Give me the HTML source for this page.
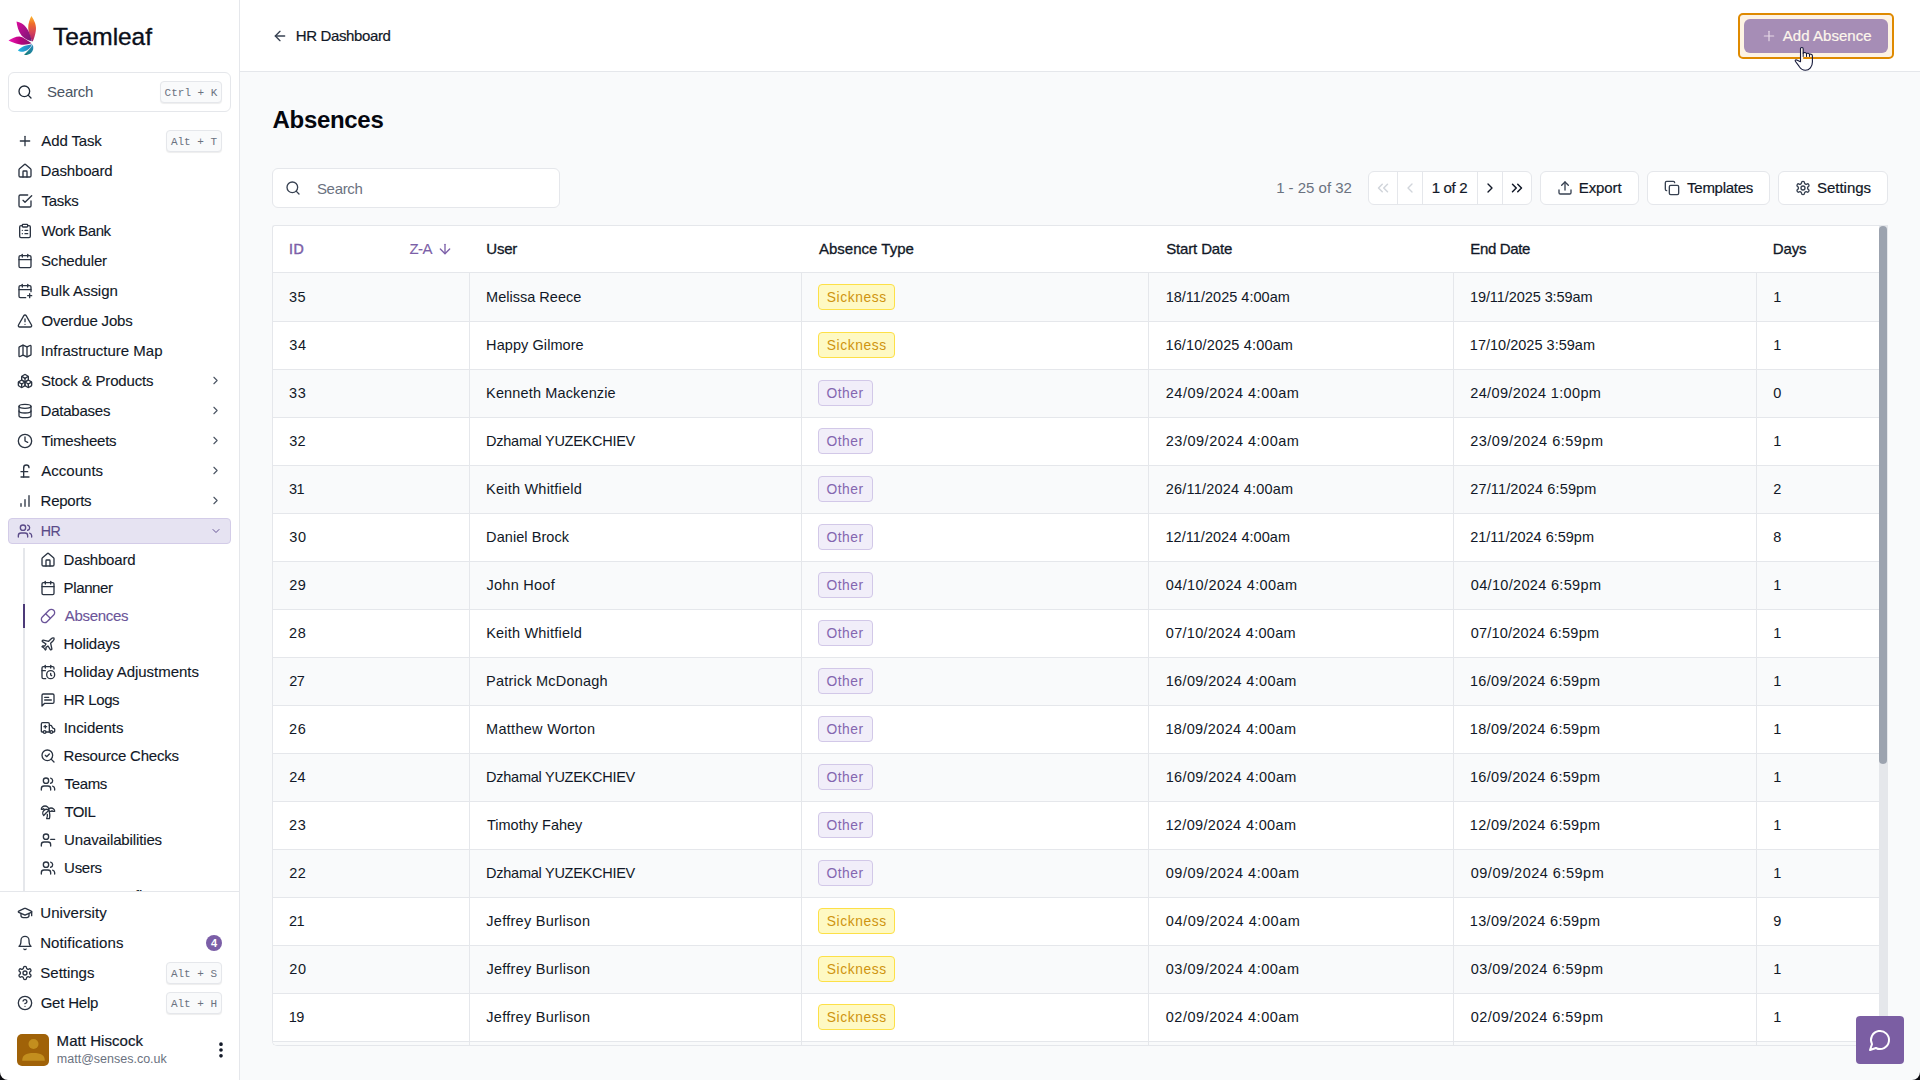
<!DOCTYPE html><html><head><meta charset="utf-8"><title>Absences</title><style>
*{box-sizing:border-box;margin:0;padding:0}
html,body{width:1920px;height:1080px;overflow:hidden;background:#f9fafb;font-family:"Liberation Sans",sans-serif}
body{font-family:"Liberation Sans",sans-serif;color:#111827;font-size:15px;position:relative}
.abs{position:absolute}
.ic{display:block;flex:none}
#sb{position:absolute;left:0;top:0;width:240px;height:1080px;background:#fff;border-right:1px solid #e5e7eb}
.brand{position:absolute;left:52px;top:21px;font-size:24.500px;line-height:32px;color:#0b0f1a;-webkit-text-stroke:0.35px #0b0f1a;white-space:nowrap}
.sbox{position:absolute;left:8px;top:72px;width:223px;height:40px;border:1px solid #e5e7eb;border-radius:6px;background:#fff}
.kbd{position:absolute;height:22px;border:1px solid #e5e7eb;border-radius:4px;background:#f9fafb;font-family:"Liberation Mono",monospace;font-size:11px;line-height:22px;color:#6b7280;text-align:center;white-space:nowrap;box-shadow:0 1px 1px rgba(0,0,0,0.07)}
.ni{position:absolute;left:8px;width:223px;height:26px;border-radius:4px;color:#111827;white-space:nowrap}
.ni .ic{position:absolute;left:9px;top:5px;color:#2b3442}
.ni .t{position:absolute;left:33px;top:0;line-height:26px;font-size:15px;-webkit-text-stroke:0.12px currentColor}
.ni .ch{position:absolute;left:201px;top:6px;color:#4b5563}
.ni.act{background:#e6e3f2;border:1px solid #d3cce8;color:#5a4a88}
.ni.act .ic{color:#5a4a88;left:8px;top:4px}
.ni.act .t{left:32px;top:-1px;font-size:14.200px}
.ni.act .ch{left:201px;top:6px;color:#665596}
.si{position:absolute;left:32px;width:199px;height:26px;white-space:nowrap;color:#111827}
.si .ic{position:absolute;left:8px;top:5px;color:#2b3442}
.si .t{position:absolute;left:32px;top:0;line-height:26px;font-size:15px;-webkit-text-stroke:0.12px currentColor}
.si.cur{color:#6b5499}
.si.cur .ic{color:#6b5499}
#hdr{position:absolute;left:240px;top:0;width:1680px;height:72px;background:#fff;border-bottom:1px solid #e5e7eb}
.med{-webkit-text-stroke:0.2px currentColor}
.btn{position:absolute;top:171px;height:34px;border:1px solid #e5e7eb;border-radius:6px;background:#fff;white-space:nowrap;font-size:15px;line-height:32px;color:#111827}
.btn .ic{position:absolute;left:16px;top:8px;color:#374151}
.btn .t{position:absolute;left:38px;top:0;-webkit-text-stroke:0.2px currentColor}
#tbl{position:absolute;left:272px;top:225px;width:1616px;height:821px;border:1px solid #e5e7eb;border-right:none;border-radius:3px 0 0 5px;overflow:hidden;background:#fff}
.th{position:absolute;top:0;height:46px;line-height:46px;font-size:15px;-webkit-text-stroke:0.3px currentColor;white-space:nowrap}
.row{position:absolute;left:0;width:1606px;border-bottom:1px solid #e5e7eb;background:#fff}
.row.g{background:#f9fafb}
.c{position:absolute;white-space:nowrap;font-size:14.500px;line-height:20px;height:20px}
.vl{position:absolute;top:47px;bottom:0;width:1px;background:#e5e7eb}
.bd{position:absolute;height:26px;border-radius:4px;font-size:13.800px;line-height:25.500px;text-align:center;white-space:nowrap}
.bd.s{width:77px;background:#fef9c3;border:1px solid #fde047;color:#cf9410}
.bd.o{width:55px;background:#f1eef9;border:1px solid #d2c8e8;color:#8466b0}
</style></head><body>
<div id="sb">
<svg class="abs" style="left:6px;top:14px" width="34" height="44" viewBox="0 0 34 44">
<defs>
<linearGradient id="g1" x1="0" y1="0" x2="0" y2="1"><stop offset="0" stop-color="#fdb92e"/><stop offset="0.3" stop-color="#ef6d2b"/><stop offset="0.65" stop-color="#d5425a"/><stop offset="1" stop-color="#a3186c"/></linearGradient>
<linearGradient id="g2" x1="0" y1="0" x2="1" y2="1"><stop offset="0" stop-color="#dc0a9c"/><stop offset="1" stop-color="#6e1a70"/></linearGradient>
<linearGradient id="g3" x1="0" y1="0" x2="1" y2="0"><stop offset="0" stop-color="#f414b6"/><stop offset="0.5" stop-color="#b8027e"/><stop offset="1" stop-color="#86186e"/></linearGradient>
<linearGradient id="g4" x1="0" y1="0" x2="1" y2="0"><stop offset="0" stop-color="#1fb6e2"/><stop offset="1" stop-color="#2c7cb8"/></linearGradient>
<linearGradient id="g5" x1="0" y1="1" x2="1" y2="0"><stop offset="0" stop-color="#127a72"/><stop offset="1" stop-color="#2a8cc0"/></linearGradient>
</defs>
<path d="M25.400 2 C 28.500 6.500, 30.800 12, 29.800 17 C 29.200 21, 28 25, 26.600 27.800 C 24.500 24, 22.400 19, 22.200 14 C 22.100 9.500, 23.800 5, 25.400 2 Z" fill="url(#g1)"/>
<path d="M10.500 7.400 C 15 8.200, 19.500 11, 22.200 16.500 C 24 20, 25.200 24, 25.900 27.200 C 22 26.500, 18 24.500, 15.500 21.500 C 12.500 17.500, 11 12, 10.500 7.400 Z" fill="url(#g2)"/>
<path d="M2.500 26.400 C 6 24, 10 22.300, 13.500 22.400 C 17 23, 21 26, 25.600 29.300 C 22 30.800, 17 31.200, 13 30.200 C 9 29.200, 5 27.800, 2.500 26.400 Z" fill="url(#g3)"/>
<path d="M11.900 36.500 C 14 33.500, 19 31, 26.200 30.200 C 24.800 33.800, 21.800 36.400, 18 37.500 C 16 38, 13.500 37.600, 11.900 36.500 Z" fill="url(#g4)"/>
<path d="M17.800 40.800 C 20.500 38, 24 35, 26.600 30.500 C 28 33.500, 27.400 37, 24.800 39.200 C 22.500 40.800, 20 41.200, 17.800 40.800 Z" fill="url(#g5)"/>
<path d="M17.800 40.800 C 20.500 38, 24 35, 26.600 30.500" fill="none" stroke="#fff" stroke-width="0.4"/>
</svg>
<div class="brand"><span style="position:relative;letter-spacing:-0.077px;left:1.10px;">Teamleaf</span></div>
<div class="sbox"><svg class="ic " width="16" height="16" viewBox="0 0 24 24" fill="none" stroke="currentColor" stroke-width="2" stroke-linecap="round" stroke-linejoin="round" style="position:absolute;left:8px;top:11px;color:#1f2937"><circle cx="11" cy="11" r="8"/><path d="m21 21-4.3-4.3"/></svg><div class="abs" style="left:38px;top:0;line-height:38px;font-size:15px;color:#4b5563"><span style="position:relative;letter-spacing:-0.253px;left:0.11px;">Search</span></div></div>
<div class="kbd" style="left:160px;top:81px;width:62px">Ctrl + K</div>
<div class="ni" style="top:128px"><svg class="ic " width="16" height="16" viewBox="0 0 24 24" fill="none" stroke="currentColor" stroke-width="2" stroke-linecap="round" stroke-linejoin="round" style=""><path d="M5 12h14"/><path d="M12 5v14"/></svg><div class="t"><span style="position:relative;letter-spacing:-0.125px;left:0.31px;">Add Task</span></div></div>
<div class="kbd" style="left:166px;top:130px;width:56px">Alt + T</div>
<div class="ni" style="top:158px"><svg class="ic " width="16" height="16" viewBox="0 0 24 24" fill="none" stroke="currentColor" stroke-width="2" stroke-linecap="round" stroke-linejoin="round" style=""><path d="M15 21v-8a1 1 0 0 0-1-1h-4a1 1 0 0 0-1 1v8"/><path d="M3 10a2 2 0 0 1 .709-1.528l7-5.999a2 2 0 0 1 2.582 0l7 5.999A2 2 0 0 1 21 10v9a2 2 0 0 1-2 2H5a2 2 0 0 1-2-2z"/></svg><div class="t"><span style="position:relative;letter-spacing:-0.154px;left:-0.45px;">Dashboard</span></div></div>
<div class="ni" style="top:188px"><svg class="ic " width="16" height="16" viewBox="0 0 24 24" fill="none" stroke="currentColor" stroke-width="2" stroke-linecap="round" stroke-linejoin="round" style=""><path d="m9 11 3 3L22 4"/><path d="M21 12v7a2 2 0 0 1-2 2H5a2 2 0 0 1-2-2V5a2 2 0 0 1 2-2h11"/></svg><div class="t"><span style="position:relative;letter-spacing:-0.274px;left:0.53px;">Tasks</span></div></div>
<div class="ni" style="top:218px"><svg class="ic " width="16" height="16" viewBox="0 0 24 24" fill="none" stroke="currentColor" stroke-width="2" stroke-linecap="round" stroke-linejoin="round" style=""><rect width="8" height="4" x="8" y="2" rx="1" ry="1"/><path d="M16 4h2a2 2 0 0 1 2 2v14a2 2 0 0 1-2 2H6a2 2 0 0 1-2-2V6a2 2 0 0 1 2-2h2"/><path d="M12 11h4"/><path d="M12 16h4"/><path d="M8 11h.01"/><path d="M8 16h.01"/></svg><div class="t"><span style="position:relative;letter-spacing:-0.447px;left:0.62px;">Work Bank</span></div></div>
<div class="ni" style="top:248px"><svg class="ic " width="16" height="16" viewBox="0 0 24 24" fill="none" stroke="currentColor" stroke-width="2" stroke-linecap="round" stroke-linejoin="round" style=""><path d="M8 2v4"/><path d="M16 2v4"/><rect width="18" height="18" x="3" y="4" rx="2"/><path d="M3 10h18"/></svg><div class="t"><span style="position:relative;letter-spacing:-0.188px;left:0.02px;">Scheduler</span></div></div>
<div class="ni" style="top:278px"><svg class="ic " width="16" height="16" viewBox="0 0 24 24" fill="none" stroke="currentColor" stroke-width="2" stroke-linecap="round" stroke-linejoin="round" style=""><path d="M8 2v4"/><path d="M16 2v4"/><path d="M21 13V6a2 2 0 0 0-2-2H5a2 2 0 0 0-2 2v14a2 2 0 0 0 2 2h8"/><path d="M3 10h18"/><path d="M16 19h6"/><path d="M19 16v6"/></svg><div class="t"><span style="position:relative;letter-spacing:-0.029px;left:-0.45px;">Bulk Assign</span></div></div>
<div class="ni" style="top:308px"><svg class="ic " width="16" height="16" viewBox="0 0 24 24" fill="none" stroke="currentColor" stroke-width="2" stroke-linecap="round" stroke-linejoin="round" style=""><path d="m21.73 18-8-14a2 2 0 0 0-3.48 0l-8 14A2 2 0 0 0 4 21h16a2 2 0 0 0 1.73-3"/><path d="M12 9v4"/><path d="M12 17h.01"/></svg><div class="t"><span style="position:relative;letter-spacing:-0.192px;left:0.43px;">Overdue Jobs</span></div></div>
<div class="ni" style="top:338px"><svg class="ic " width="16" height="16" viewBox="0 0 24 24" fill="none" stroke="currentColor" stroke-width="2" stroke-linecap="round" stroke-linejoin="round" style=""><path d="M14.106 5.553a2 2 0 0 0 1.788 0l3.659-1.83A1 1 0 0 1 21 4.619v12.764a1 1 0 0 1-.553.894l-4.553 2.277a2 2 0 0 1-1.788 0l-4.212-2.106a2 2 0 0 0-1.788 0l-3.659 1.83A1 1 0 0 1 3 19.381V6.618a1 1 0 0 1 .553-.894l4.553-2.277a2 2 0 0 1 1.788 0z"/><path d="M15 5.764v15"/><path d="M9 3.236v15"/></svg><div class="t"><span style="position:relative;letter-spacing:0.004px;left:-0.25px;">Infrastructure Map</span></div></div>
<div class="ni" style="top:368px"><svg class="ic " width="16" height="16" viewBox="0 0 24 24" fill="none" stroke="currentColor" stroke-width="2" stroke-linecap="round" stroke-linejoin="round" style=""><path d="M2.97 12.92A2 2 0 0 0 2 14.63v3.24a2 2 0 0 0 .97 1.71l3 1.8a2 2 0 0 0 2.06 0L12 19v-5.500l-5-3-4.030 2.420Z"/><path d="m7 16.500-4.740-2.850"/><path d="m7 16.500 5-3"/><path d="M7 16.500v5.170"/><path d="M12 13.500V19l3.970 2.380a2 2 0 0 0 2.060 0l3-1.800a2 2 0 0 0 .970-1.710v-3.240a2 2 0 0 0-.970-1.710L17 10.500l-5 3Z"/><path d="m17 16.500-5-3"/><path d="m17 16.500 4.740-2.850"/><path d="M17 16.500v5.170"/><path d="M7.970 4.420A2 2 0 0 0 7 6.130v4.370l5 3 5-3V6.130a2 2 0 0 0-.970-1.710l-3-1.800a2 2 0 0 0-2.060 0l-3 1.800Z"/><path d="M12 8 7.260 5.150"/><path d="m12 8 4.740-2.850"/><path d="M12 13.500V8"/></svg><div class="t"><span style="position:relative;letter-spacing:-0.173px;left:0.02px;">Stock &amp; Products</span></div><svg class="ic ch" width="13" height="13" viewBox="0 0 24 24" fill="none" stroke="currentColor" stroke-width="2" stroke-linecap="round" stroke-linejoin="round" style=""><path d="m9 18 6-6-6-6"/></svg></div>
<div class="ni" style="top:398px"><svg class="ic " width="16" height="16" viewBox="0 0 24 24" fill="none" stroke="currentColor" stroke-width="2" stroke-linecap="round" stroke-linejoin="round" style=""><ellipse cx="12" cy="5" rx="9" ry="3"/><path d="M3 5V19A9 3 0 0 0 21 19V5"/><path d="M3 12A9 3 0 0 0 21 12"/></svg><div class="t"><span style="position:relative;letter-spacing:-0.233px;left:-0.45px;">Databases</span></div><svg class="ic ch" width="13" height="13" viewBox="0 0 24 24" fill="none" stroke="currentColor" stroke-width="2" stroke-linecap="round" stroke-linejoin="round" style=""><path d="m9 18 6-6-6-6"/></svg></div>
<div class="ni" style="top:428px"><svg class="ic " width="16" height="16" viewBox="0 0 24 24" fill="none" stroke="currentColor" stroke-width="2" stroke-linecap="round" stroke-linejoin="round" style=""><circle cx="12" cy="12" r="10"/><polyline points="12 6 12 12 16 14"/></svg><div class="t"><span style="position:relative;letter-spacing:-0.209px;left:0.53px;">Timesheets</span></div><svg class="ic ch" width="13" height="13" viewBox="0 0 24 24" fill="none" stroke="currentColor" stroke-width="2" stroke-linecap="round" stroke-linejoin="round" style=""><path d="m9 18 6-6-6-6"/></svg></div>
<div class="ni" style="top:458px"><svg class="ic " width="16" height="16" viewBox="0 0 24 24" fill="none" stroke="currentColor" stroke-width="2" stroke-linecap="round" stroke-linejoin="round" style=""><path d="M18 7c0-5.333-8-5.333-8 0"/><path d="M10 7v14"/><path d="M6 21h12"/><path d="M6 13h10"/></svg><div class="t"><span style="position:relative;letter-spacing:0.009px;left:0.31px;">Accounts</span></div><svg class="ic ch" width="13" height="13" viewBox="0 0 24 24" fill="none" stroke="currentColor" stroke-width="2" stroke-linecap="round" stroke-linejoin="round" style=""><path d="m9 18 6-6-6-6"/></svg></div>
<div class="ni" style="top:488px"><svg class="ic " width="16" height="16" viewBox="0 0 24 24" fill="none" stroke="currentColor" stroke-width="2" stroke-linecap="round" stroke-linejoin="round" style=""><line x1="12" x2="12" y1="20" y2="10"/><line x1="18" x2="18" y1="20" y2="4"/><line x1="6" x2="6" y1="20" y2="16"/></svg><div class="t"><span style="position:relative;letter-spacing:-0.250px;left:-0.45px;">Reports</span></div><svg class="ic ch" width="13" height="13" viewBox="0 0 24 24" fill="none" stroke="currentColor" stroke-width="2" stroke-linecap="round" stroke-linejoin="round" style=""><path d="m9 18 6-6-6-6"/></svg></div>
<div class="ni act" style="top:518px"><svg class="ic " width="16" height="16" viewBox="0 0 24 24" fill="none" stroke="currentColor" stroke-width="2" stroke-linecap="round" stroke-linejoin="round" style=""><path d="M16 21v-2a4 4 0 0 0-4-4H6a4 4 0 0 0-4 4v2"/><circle cx="9" cy="7" r="4"/><path d="M22 21v-2a4 4 0 0 0-3-3.870"/><path d="M16 3.130a4 4 0 0 1 0 7.750"/></svg><div class="t"><span style="position:relative;letter-spacing:-0.600px;left:-0.20px;">HR</span></div><svg class="ic ch" width="12" height="12" viewBox="0 0 24 24" fill="none" stroke="currentColor" stroke-width="2" stroke-linecap="round" stroke-linejoin="round" style=""><path d="m6 9 6 6 6-6"/></svg></div>
<div class="abs" style="left:23px;top:548px;width:2px;height:343px;background:#e5e7eb"></div>
<div class="abs" style="left:23px;top:604px;width:2px;height:24px;background:#4c3a78"></div>
<div class="si" style="top:547px"><svg class="ic " width="16" height="16" viewBox="0 0 24 24" fill="none" stroke="currentColor" stroke-width="2" stroke-linecap="round" stroke-linejoin="round" style=""><path d="M15 21v-8a1 1 0 0 0-1-1h-4a1 1 0 0 0-1 1v8"/><path d="M3 10a2 2 0 0 1 .709-1.528l7-5.999a2 2 0 0 1 2.582 0l7 5.999A2 2 0 0 1 21 10v9a2 2 0 0 1-2 2H5a2 2 0 0 1-2-2z"/></svg><div class="t"><span style="position:relative;letter-spacing:-0.174px;left:-0.45px;">Dashboard</span></div></div>
<div class="si" style="top:575px"><svg class="ic " width="16" height="16" viewBox="0 0 24 24" fill="none" stroke="currentColor" stroke-width="2" stroke-linecap="round" stroke-linejoin="round" style=""><path d="M8 2v4"/><path d="M16 2v4"/><rect width="18" height="18" x="3" y="4" rx="2"/><path d="M3 10h18"/></svg><div class="t"><span style="position:relative;letter-spacing:-0.366px;left:-0.45px;">Planner</span></div></div>
<div class="si cur" style="top:603px"><svg class="ic " width="16" height="16" viewBox="0 0 24 24" fill="none" stroke="currentColor" stroke-width="2" stroke-linecap="round" stroke-linejoin="round" style=""><path d="m10.500 20.500 10-10a4.950 4.950 0 1 0-7-7l-10 10a4.950 4.950 0 1 0 7 7Z"/><path d="m8.500 8.500 7 7"/></svg><div class="t"><span style="position:relative;letter-spacing:-0.278px;left:0.68px;">Absences</span></div></div>
<div class="si" style="top:631px"><svg class="ic " width="16" height="16" viewBox="0 0 24 24" fill="none" stroke="currentColor" stroke-width="2" stroke-linecap="round" stroke-linejoin="round" style=""><path d="M17.800 19.200 16 11l3.500-3.500C21 6 21.500 4 21 3c-1-.500-3 0-4.500 1.500L13 8 4.800 6.200c-.500-.100-.900.100-1.100.500l-.300.500c-.200.500-.100 1 .300 1.300L9 12l-2 3H4l-1 1 3 2 2 3 1-1v-3l3-2 3.500 5.300c.300.400.800.500 1.300.300l.500-.200c.400-.300.600-.700.500-1.200z"/></svg><div class="t"><span style="position:relative;letter-spacing:-0.146px;left:-0.45px;">Holidays</span></div></div>
<div class="si" style="top:659px"><svg class="ic " width="16" height="16" viewBox="0 0 24 24" fill="none" stroke="currentColor" stroke-width="2" stroke-linecap="round" stroke-linejoin="round" style=""><path d="M21 7.500V6a2 2 0 0 0-2-2H5a2 2 0 0 0-2 2v14a2 2 0 0 0 2 2h3.500"/><path d="M16 2v4"/><path d="M8 2v4"/><path d="M3 10h5"/><path d="M17.500 17.500 16 16.300V14"/><circle cx="16" cy="16" r="6"/></svg><div class="t"><span style="position:relative;letter-spacing:-0.029px;left:-0.45px;">Holiday Adjustments</span></div></div>
<div class="si" style="top:687px"><svg class="ic " width="16" height="16" viewBox="0 0 24 24" fill="none" stroke="currentColor" stroke-width="2" stroke-linecap="round" stroke-linejoin="round" style=""><path d="M21 15a2 2 0 0 1-2 2H7l-4 4V5a2 2 0 0 1 2-2h14a2 2 0 0 1 2 2z"/><path d="M13 8H7"/><path d="M17 12H7"/></svg><div class="t"><span style="position:relative;letter-spacing:-0.386px;left:-0.45px;">HR Logs</span></div></div>
<div class="si" style="top:715px"><svg class="ic " width="16" height="16" viewBox="0 0 24 24" fill="none" stroke="currentColor" stroke-width="2" stroke-linecap="round" stroke-linejoin="round" style=""><path d="M10 10H6"/><path d="M14 18V6a2 2 0 0 0-2-2H4a2 2 0 0 0-2 2v11a1 1 0 0 0 1 1h2"/><path d="M19 18h2a1 1 0 0 0 1-1v-3.280a1 1 0 0 0-.684-.948l-1.923-.641a1 1 0 0 1-.578-.502l-1.539-3.076A1 1 0 0 0 16.382 8H14"/><path d="M8 8v4"/><path d="M9 18h6"/><circle cx="17" cy="18" r="2"/><circle cx="7" cy="18" r="2"/></svg><div class="t"><span style="position:relative;letter-spacing:-0.045px;left:-0.25px;">Incidents</span></div></div>
<div class="si" style="top:743px"><svg class="ic " width="16" height="16" viewBox="0 0 24 24" fill="none" stroke="currentColor" stroke-width="2" stroke-linecap="round" stroke-linejoin="round" style=""><path d="m8 11 2 2 4-4"/><circle cx="11" cy="11" r="8"/><path d="m21 21-4.300-4.300"/></svg><div class="t"><span style="position:relative;letter-spacing:-0.205px;left:-0.45px;">Resource Checks</span></div></div>
<div class="si" style="top:771px"><svg class="ic " width="16" height="16" viewBox="0 0 24 24" fill="none" stroke="currentColor" stroke-width="2" stroke-linecap="round" stroke-linejoin="round" style=""><path d="M16 21v-2a4 4 0 0 0-4-4H6a4 4 0 0 0-4 4v2"/><circle cx="9" cy="7" r="4"/><path d="M22 21v-2a4 4 0 0 0-3-3.870"/><path d="M16 3.130a4 4 0 0 1 0 7.750"/></svg><div class="t"><span style="position:relative;letter-spacing:-0.333px;left:0.53px;">Teams</span></div></div>
<div class="si" style="top:799px"><svg class="ic " width="16" height="16" viewBox="0 0 24 24" fill="none" stroke="currentColor" stroke-width="2" stroke-linecap="round" stroke-linejoin="round" style=""><path d="M13 8c0-2.760-2.460-5-5.500-5S2 5.240 2 8h2l1-1 1 1h4"/><path d="M13 7.140A5.820 5.820 0 0 1 16.500 6c3.040 0 5.500 2.240 5.500 5h-3l-1-1-1 1h-3"/><path d="M5.890 9.710c-2.150 2.150-2.300 5.470-.350 7.430l4.240-4.250.700-.700.710-.710 2.120-2.120c-1.950-1.960-5.270-1.800-7.420.350"/><path d="M11 15.500c.500 2.500-.170 4.500-1 6.500h4c2-5.500-.500-12-1-14"/></svg><div class="t"><span style="position:relative;letter-spacing:-0.600px;left:0.53px;">TOIL</span></div></div>
<div class="si" style="top:827px"><svg class="ic " width="16" height="16" viewBox="0 0 24 24" fill="none" stroke="currentColor" stroke-width="2" stroke-linecap="round" stroke-linejoin="round" style=""><path d="M16 21v-2a4 4 0 0 0-4-4H6a4 4 0 0 0-4 4v2"/><circle cx="9" cy="7" r="4"/><line x1="22" x2="16" y1="11" y2="11"/></svg><div class="t"><span style="position:relative;letter-spacing:-0.136px;left:0.10px;">Unavailabilities</span></div></div>
<div class="si" style="top:855px"><svg class="ic " width="16" height="16" viewBox="0 0 24 24" fill="none" stroke="currentColor" stroke-width="2" stroke-linecap="round" stroke-linejoin="round" style=""><path d="M16 21v-2a4 4 0 0 0-4-4H6a4 4 0 0 0-4 4v2"/><circle cx="9" cy="7" r="4"/><path d="M22 21v-2a4 4 0 0 0-3-3.870"/><path d="M16 3.130a4 4 0 0 1 0 7.750"/></svg><div class="t"><span style="position:relative;letter-spacing:-0.293px;left:0.10px;">Users</span></div></div>
<div class="si" style="top:883px"><div class="t">User Benefits</div></div>
<div class="abs" style="left:0;top:891px;width:239px;height:189px;background:#fff;border-top:1px solid #e5e7eb"></div>
<div class="ni" style="top:900px"><svg class="ic " width="16" height="16" viewBox="0 0 24 24" fill="none" stroke="currentColor" stroke-width="2" stroke-linecap="round" stroke-linejoin="round" style=""><path d="M21.420 10.922a1 1 0 0 0-.019-1.838L12.830 5.180a2 2 0 0 0-1.660 0L2.600 9.080a1 1 0 0 0 0 1.832l8.570 3.908a2 2 0 0 0 1.660 0z"/><path d="M22 10v6"/><path d="M6 12.500V16a6 3 0 0 0 12 0v-3.500"/></svg><div class="t"><span style="position:relative;letter-spacing:0.055px;left:-0.68px;">University</span></div></div>
<div class="ni" style="top:930px"><svg class="ic " width="16" height="16" viewBox="0 0 24 24" fill="none" stroke="currentColor" stroke-width="2" stroke-linecap="round" stroke-linejoin="round" style=""><path d="M6 8a6 6 0 0 1 12 0c0 7 3 9 3 9H3s3-2 3-9"/><path d="M10.300 21a1.940 1.940 0 0 0 3.400 0"/></svg><div class="t"><span style="position:relative;letter-spacing:0.132px;left:-0.89px;">Notifications</span></div></div>
<div class="ni" style="top:960px"><svg class="ic " width="16" height="16" viewBox="0 0 24 24" fill="none" stroke="currentColor" stroke-width="2" stroke-linecap="round" stroke-linejoin="round" style=""><path d="M12.220 2h-.440a2 2 0 0 0-2 2v.180a2 2 0 0 1-1 1.730l-.430.250a2 2 0 0 1-2 0l-.150-.080a2 2 0 0 0-2.730.730l-.220.380a2 2 0 0 0 .730 2.730l.150.100a2 2 0 0 1 1 1.720v.510a2 2 0 0 1-1 1.740l-.150.090a2 2 0 0 0-.730 2.730l.220.380a2 2 0 0 0 2.730.730l.150-.080a2 2 0 0 1 2 0l.430.250a2 2 0 0 1 1 1.730V20a2 2 0 0 0 2 2h.440a2 2 0 0 0 2-2v-.180a2 2 0 0 1 1-1.730l.430-.250a2 2 0 0 1 2 0l.150.080a2 2 0 0 0 2.730-.730l.220-.390a2 2 0 0 0-.730-2.730l-.150-.080a2 2 0 0 1-1-1.740v-.500a2 2 0 0 1 1-1.740l.150-.090a2 2 0 0 0 .730-2.730l-.220-.380a2 2 0 0 0-2.730-.730l-.150.080a2 2 0 0 1-2 0l-.430-.250a2 2 0 0 1-1-1.730V4a2 2 0 0 0-2-2z"/><circle cx="12" cy="12" r="3"/></svg><div class="t"><span style="position:relative;letter-spacing:-0.019px;left:-0.65px;">Settings</span></div></div>
<div class="ni" style="top:990px"><svg class="ic " width="16" height="16" viewBox="0 0 24 24" fill="none" stroke="currentColor" stroke-width="2" stroke-linecap="round" stroke-linejoin="round" style=""><circle cx="12" cy="12" r="10"/><path d="M9.090 9a3 3 0 0 1 5.830 1c0 2-3 3-3 3"/><path d="M12 17h.01"/></svg><div class="t"><span style="position:relative;letter-spacing:-0.208px;left:-0.38px;">Get Help</span></div></div>
<div class="abs" style="left:206px;top:935px;width:16px;height:16px;border-radius:8px;background:#7b5ea7;color:#fff;font-size:11px;font-weight:bold;line-height:16px;text-align:center">4</div>
<div class="kbd" style="left:166px;top:962px;width:56px">Alt + S</div>
<div class="kbd" style="left:166px;top:992px;width:56px">Alt + H</div>
<div class="abs" style="left:17px;top:1034px;width:32px;height:32px;border-radius:5px;background:#a06208;overflow:hidden">
<svg width="32" height="32" viewBox="0 0 32 32"><circle cx="16.500" cy="10" r="5" fill="#c38e1e"/><path d="M5.200 26.700 C5.200 21 9 19 16.500 19 C24 19 27.800 21 27.800 26.700 Z" fill="#c38e1e"/></svg></div>
<div class="abs med" style="left:57px;top:1031px;font-size:15px;line-height:20px;white-space:nowrap"><span style="position:relative;letter-spacing:0.054px;left:-0.42px;">Matt Hiscock</span></div>
<div class="abs" style="left:57px;top:1050px;font-size:12.500px;line-height:18px;color:#6b7280;white-space:nowrap"><span style="position:relative;letter-spacing:0.001px;left:-0.19px;">matt@senses.co.uk</span></div>
<svg class="ic " width="20" height="20" viewBox="0 0 24 24" fill="none" stroke="currentColor" stroke-width="2.4" stroke-linecap="round" stroke-linejoin="round" style="position:absolute;left:211px;top:1040px;color:#111827"><circle cx="12" cy="12" r="1"/><circle cx="12" cy="5" r="1"/><circle cx="12" cy="19" r="1"/></svg>
</div>
<div id="hdr">
<svg class="ic " width="16" height="16" viewBox="0 0 24 24" fill="none" stroke="currentColor" stroke-width="2" stroke-linecap="round" stroke-linejoin="round" style="position:absolute;left:32px;top:28px;color:#374151"><path d="m12 19-7-7 7-7"/><path d="M19 12H5"/></svg>
<div class="abs med" style="left:56px;top:26px;font-size:15px;line-height:20px;white-space:nowrap"><span style="position:relative;letter-spacing:-0.359px;left:-0.33px;">HR Dashboard</span></div>
<div class="abs" style="left:1498px;top:13px;width:156px;height:46px;border:2px solid #df8a00;border-radius:5px;background:#fdf3e4"></div>
<div class="abs" style="left:1504px;top:19px;width:144px;height:34px;border-radius:6px;background:#a68db6;color:#fdf6ec"><svg class="ic " width="16" height="16" viewBox="0 0 24 24" fill="none" stroke="currentColor" stroke-width="1.8" stroke-linecap="round" stroke-linejoin="round" style="position:absolute;left:17px;top:9px;color:#e6d8e6"><path d="M5 12h14"/><path d="M12 5v14"/></svg><div class="abs med" style="left:38px;top:0;line-height:33px;font-size:15px;white-space:nowrap"><span style="position:relative;letter-spacing:0.035px;left:0.82px;">Add Absence</span></div></div>
</div>
<div class="abs" style="left:272px;top:102px;font-size:24px;line-height:36px;font-weight:bold;color:#05070f;white-space:nowrap"><span style="position:relative;letter-spacing:-0.305px;left:0.51px;">Absences</span></div>
<div class="abs" style="left:272px;top:168px;width:288px;height:40px;border:1px solid #e5e7eb;border-radius:6px;background:#fff"><svg class="ic " width="16" height="16" viewBox="0 0 24 24" fill="none" stroke="currentColor" stroke-width="2" stroke-linecap="round" stroke-linejoin="round" style="position:absolute;left:12px;top:11px;color:#374151"><circle cx="11" cy="11" r="8"/><path d="m21 21-4.3-4.3"/></svg><div class="abs" style="left:44px;top:0;line-height:39px;font-size:15px;color:#6b7280"><span style="position:relative;letter-spacing:-0.306px;left:-0.10px;">Search</span></div></div>
<div class="abs" style="left:1276px;top:178px;font-size:15px;line-height:20px;color:#6b7280;white-space:nowrap"><span style="position:relative;letter-spacing:-0.014px;left:0.14px;">1 - 25 of 32</span></div>
<div class="abs" style="left:1368px;top:171px;width:164px;height:34px;border:1px solid #e5e7eb;border-radius:6px;background:#fff"><div class="abs" style="left:28px;top:0;width:1px;height:32px;background:#e5e7eb"></div><div class="abs" style="left:53px;top:0;width:1px;height:32px;background:#e5e7eb"></div><div class="abs" style="left:108px;top:0;width:1px;height:32px;background:#e5e7eb"></div><div class="abs" style="left:133px;top:0;width:1px;height:32px;background:#e5e7eb"></div><svg class="ic " width="18" height="18" viewBox="0 0 24 24" fill="none" stroke="currentColor" stroke-width="2" stroke-linecap="round" stroke-linejoin="round" style="position:absolute;left:5px;top:7px;color:#d1d5db"><path d="m11 17-5-5 5-5"/><path d="m18 17-5-5 5-5"/></svg><svg class="ic " width="16" height="16" viewBox="0 0 24 24" fill="none" stroke="currentColor" stroke-width="2" stroke-linecap="round" stroke-linejoin="round" style="position:absolute;left:33px;top:8px;color:#d1d5db"><path d="m15 18-6-6 6-6"/></svg><div class="abs med" style="left:54px;top:0;width:54px;text-align:center;line-height:32px;font-size:15px;white-space:nowrap"><span style="position:relative;letter-spacing:-0.352px;left:-0.58px;">1 of 2</span></div><svg class="ic " width="16" height="16" viewBox="0 0 24 24" fill="none" stroke="currentColor" stroke-width="2" stroke-linecap="round" stroke-linejoin="round" style="position:absolute;left:113px;top:8px;color:#111827"><path d="m9 18 6-6-6-6"/></svg><svg class="ic " width="18" height="18" viewBox="0 0 24 24" fill="none" stroke="currentColor" stroke-width="2" stroke-linecap="round" stroke-linejoin="round" style="position:absolute;left:139px;top:7px;color:#111827"><path d="m6 17 5-5-5-5"/><path d="m13 17 5-5-5-5"/></svg></div>
<div class="btn" style="left:1540px;width:99px"><svg class="ic " width="16" height="16" viewBox="0 0 24 24" fill="none" stroke="currentColor" stroke-width="2" stroke-linecap="round" stroke-linejoin="round" style=""><path d="M21 15v4a2 2 0 0 1-2 2H5a2 2 0 0 1-2-2v-4"/><polyline points="17 8 12 3 7 8"/><line x1="12" x2="12" y1="3" y2="15"/></svg><div class="t"><span style="position:relative;letter-spacing:-0.085px;left:-0.26px;">Export</span></div></div>
<div class="btn" style="left:1647px;width:123px"><svg class="ic " width="16" height="16" viewBox="0 0 24 24" fill="none" stroke="currentColor" stroke-width="2" stroke-linecap="round" stroke-linejoin="round" style=""><rect width="14" height="14" x="8" y="8" rx="2" ry="2"/><path d="M4 16c-1.100 0-2-.900-2-2V4c0-1.100.900-2 2-2h10c1.100 0 2 .900 2 2"/></svg><div class="t"><span style="position:relative;letter-spacing:-0.256px;left:1.05px;">Templates</span></div></div>
<div class="btn" style="left:1778px;width:110px"><svg class="ic " width="16" height="16" viewBox="0 0 24 24" fill="none" stroke="currentColor" stroke-width="2" stroke-linecap="round" stroke-linejoin="round" style=""><path d="M12.220 2h-.440a2 2 0 0 0-2 2v.180a2 2 0 0 1-1 1.730l-.430.250a2 2 0 0 1-2 0l-.150-.080a2 2 0 0 0-2.730.730l-.220.380a2 2 0 0 0 .730 2.730l.150.100a2 2 0 0 1 1 1.720v.510a2 2 0 0 1-1 1.740l-.150.090a2 2 0 0 0-.730 2.730l.220.380a2 2 0 0 0 2.730.730l.150-.080a2 2 0 0 1 2 0l.430.250a2 2 0 0 1 1 1.730V20a2 2 0 0 0 2 2h.440a2 2 0 0 0 2-2v-.180a2 2 0 0 1 1-1.730l.430-.250a2 2 0 0 1 2 0l.150.080a2 2 0 0 0 2.730-.730l.220-.390a2 2 0 0 0-.730-2.730l-.150-.080a2 2 0 0 1-1-1.740v-.500a2 2 0 0 1 1-1.740l.150-.090a2 2 0 0 0 .730-2.730l-.220-.380a2 2 0 0 0-2.730-.730l-.150.080a2 2 0 0 1-2 0l-.430-.250a2 2 0 0 1-1-1.730V4a2 2 0 0 0-2-2z"/><circle cx="12" cy="12" r="3"/></svg><div class="t"><span style="position:relative;letter-spacing:0.002px;left:-0.10px;">Settings</span></div></div>
<div id="tbl">
<div class="th" style="left:17px;color:#7c5fa8;-webkit-text-stroke:0.5px currentColor;font-size:14.200px;"><span style="position:relative;letter-spacing:0.489px;left:-0.90px;">ID</span></div>
<div class="th" style="left:214px;"><span style="position:relative;letter-spacing:-0.214px;left:-0.72px;">User</span></div>
<div class="th" style="left:546px;"><span style="position:relative;letter-spacing:0.019px;left:-0.09px;">Absence Type</span></div>
<div class="th" style="left:893px;"><span style="position:relative;letter-spacing:-0.139px;left:0.16px;">Start Date</span></div>
<div class="th" style="left:1198px;"><span style="position:relative;letter-spacing:-0.344px;left:-0.75px;">End Date</span></div>
<div class="th" style="left:1501px;"><span style="position:relative;letter-spacing:-0.121px;left:-1.21px;">Days</span></div>
<div class="th" style="left:136px;color:#7c5fa8;-webkit-text-stroke:0.1px currentColor"><span style="position:relative;letter-spacing:-0.600px;left:0.53px;">Z-A</span></div><svg class="ic " width="16" height="16" viewBox="0 0 24 24" fill="none" stroke="currentColor" stroke-width="2" stroke-linecap="round" stroke-linejoin="round" style="position:absolute;left:164px;top:15px;color:#7c5fa8"><path d="M12 5v14"/><path d="m19 12-7 7-7-7"/></svg>
<div class="abs" style="left:0;top:46px;width:1606px;height:1px;background:#e5e7eb"></div>
<div class="row g" style="top:47px;height:49px"><div class="c" style="left:17px;top:14px"><span style="position:relative;letter-spacing:0.441px;left:-0.90px;">35</span></div><div class="c" style="left:214px;top:14px"><span style="position:relative;letter-spacing:0.009px;left:-0.90px;">Melissa Reece</span></div><div class="bd s" style="left:545px;top:11px"><span style="position:relative;letter-spacing:0.603px;left:0.22px;">Sickness</span></div><div class="c" style="left:893px;top:14px"><span style="position:relative;letter-spacing:0.014px;left:-0.33px;">18/11/2025 4:00am</span></div><div class="c" style="left:1198px;top:14px"><span style="position:relative;letter-spacing:-0.074px;left:-1.08px;">19/11/2025 3:59am</span></div><div class="c" style="left:1500.3px;top:14px">1</div></div>
<div class="row" style="top:96px;height:48px"><div class="c" style="left:17px;top:13px"><span style="position:relative;letter-spacing:0.800px;left:-0.87px;">34</span></div><div class="c" style="left:214px;top:13px"><span style="position:relative;letter-spacing:0.072px;left:-0.90px;">Happy Gilmore</span></div><div class="bd s" style="left:545px;top:10px"><span style="position:relative;letter-spacing:0.603px;left:0.22px;">Sickness</span></div><div class="c" style="left:893px;top:13px"><span style="position:relative;letter-spacing:0.160px;left:-0.59px;">16/10/2025 4:00am</span></div><div class="c" style="left:1198px;top:13px"><span style="position:relative;letter-spacing:0.011px;left:-1.17px;">17/10/2025 3:59am</span></div><div class="c" style="left:1500.3px;top:13px">1</div></div>
<div class="row g" style="top:144px;height:48px"><div class="c" style="left:17px;top:13px"><span style="position:relative;letter-spacing:0.555px;left:-0.90px;">33</span></div><div class="c" style="left:214px;top:13px"><span style="position:relative;letter-spacing:0.136px;left:-0.90px;">Kenneth Mackenzie</span></div><div class="bd o" style="left:545px;top:10px"><span style="position:relative;letter-spacing:0.542px;left:-0.51px;">Other</span></div><div class="c" style="left:893px;top:13px"><span style="position:relative;letter-spacing:0.512px;left:-0.22px;">24/09/2024 4:00am</span></div><div class="c" style="left:1198px;top:13px"><span style="position:relative;letter-spacing:0.355px;left:-0.73px;">24/09/2024 1:00pm</span></div><div class="c" style="left:1500.3px;top:13px">0</div></div>
<div class="row" style="top:192px;height:48px"><div class="c" style="left:17px;top:13px"><span style="position:relative;letter-spacing:0.413px;left:-0.87px;">32</span></div><div class="c" style="left:214px;top:13px"><span style="position:relative;letter-spacing:-0.263px;left:-0.90px;">Dzhamal YUZEKCHIEV</span></div><div class="bd o" style="left:545px;top:10px"><span style="position:relative;letter-spacing:0.542px;left:-0.51px;">Other</span></div><div class="c" style="left:893px;top:13px"><span style="position:relative;letter-spacing:0.512px;left:-0.24px;">23/09/2024 4:00am</span></div><div class="c" style="left:1198px;top:13px"><span style="position:relative;letter-spacing:0.484px;left:-0.76px;">23/09/2024 6:59pm</span></div><div class="c" style="left:1500.3px;top:13px">1</div></div>
<div class="row g" style="top:240px;height:48px"><div class="c" style="left:17px;top:13px"><span style="position:relative;letter-spacing:-0.600px;left:-0.90px;">31</span></div><div class="c" style="left:214px;top:13px"><span style="position:relative;letter-spacing:0.212px;left:-0.90px;">Keith Whitfield</span></div><div class="bd o" style="left:545px;top:10px"><span style="position:relative;letter-spacing:0.542px;left:-0.51px;">Other</span></div><div class="c" style="left:893px;top:13px"><span style="position:relative;letter-spacing:0.211px;left:-0.22px;">26/11/2024 4:00am</span></div><div class="c" style="left:1198px;top:13px"><span style="position:relative;letter-spacing:0.139px;left:-0.73px;">27/11/2024 6:59pm</span></div><div class="c" style="left:1500.3px;top:13px">2</div></div>
<div class="row" style="top:288px;height:48px"><div class="c" style="left:17px;top:13px"><span style="position:relative;letter-spacing:0.800px;left:-0.87px;">30</span></div><div class="c" style="left:214px;top:13px"><span style="position:relative;letter-spacing:0.067px;left:-0.90px;">Daniel Brock</span></div><div class="bd o" style="left:545px;top:10px"><span style="position:relative;letter-spacing:0.542px;left:-0.51px;">Other</span></div><div class="c" style="left:893px;top:13px"><span style="position:relative;letter-spacing:0.041px;left:-0.59px;">12/11/2024 4:00am</span></div><div class="c" style="left:1198px;top:13px"><span style="position:relative;letter-spacing:-0.011px;left:-0.76px;">21/11/2024 6:59pm</span></div><div class="c" style="left:1500.3px;top:13px">8</div></div>
<div class="row g" style="top:336px;height:48px"><div class="c" style="left:17px;top:13px"><span style="position:relative;letter-spacing:0.588px;left:-0.86px;">29</span></div><div class="c" style="left:214px;top:13px"><span style="position:relative;letter-spacing:0.268px;left:-0.56px;">John Hoof</span></div><div class="bd o" style="left:545px;top:10px"><span style="position:relative;letter-spacing:0.542px;left:-0.51px;">Other</span></div><div class="c" style="left:893px;top:13px"><span style="position:relative;letter-spacing:0.395px;left:-0.23px;">04/10/2024 4:00am</span></div><div class="c" style="left:1198px;top:13px"><span style="position:relative;letter-spacing:0.331px;left:-0.27px;">04/10/2024 6:59pm</span></div><div class="c" style="left:1500.3px;top:13px">1</div></div>
<div class="row" style="top:384px;height:48px"><div class="c" style="left:17px;top:13px"><span style="position:relative;letter-spacing:0.488px;left:-0.90px;">28</span></div><div class="c" style="left:214px;top:13px"><span style="position:relative;letter-spacing:0.207px;left:-0.88px;">Keith Whitfield</span></div><div class="bd o" style="left:545px;top:10px"><span style="position:relative;letter-spacing:0.542px;left:-0.51px;">Other</span></div><div class="c" style="left:893px;top:13px"><span style="position:relative;letter-spacing:0.308px;left:-0.23px;">07/10/2024 4:00am</span></div><div class="c" style="left:1198px;top:13px"><span style="position:relative;letter-spacing:0.206px;left:-0.27px;">07/10/2024 6:59pm</span></div><div class="c" style="left:1500.3px;top:13px">1</div></div>
<div class="row g" style="top:432px;height:48px"><div class="c" style="left:17px;top:13px"><span style="position:relative;letter-spacing:-0.428px;left:-0.86px;">27</span></div><div class="c" style="left:214px;top:13px"><span style="position:relative;letter-spacing:0.204px;left:-0.90px;">Patrick McDonagh</span></div><div class="bd o" style="left:545px;top:10px"><span style="position:relative;letter-spacing:0.542px;left:-0.51px;">Other</span></div><div class="c" style="left:893px;top:13px"><span style="position:relative;letter-spacing:0.360px;left:-0.33px;">16/09/2024 4:00am</span></div><div class="c" style="left:1198px;top:13px"><span style="position:relative;letter-spacing:0.317px;left:-1.08px;">16/09/2024 6:59pm</span></div><div class="c" style="left:1500.3px;top:13px">1</div></div>
<div class="row" style="top:480px;height:48px"><div class="c" style="left:17px;top:13px"><span style="position:relative;letter-spacing:0.488px;left:-0.90px;">26</span></div><div class="c" style="left:214px;top:13px"><span style="position:relative;letter-spacing:0.275px;left:-0.90px;">Matthew Worton</span></div><div class="bd o" style="left:545px;top:10px"><span style="position:relative;letter-spacing:0.542px;left:-0.51px;">Other</span></div><div class="c" style="left:893px;top:13px"><span style="position:relative;letter-spacing:0.352px;left:-0.59px;">18/09/2024 4:00am</span></div><div class="c" style="left:1198px;top:13px"><span style="position:relative;letter-spacing:0.323px;left:-1.17px;">18/09/2024 6:59pm</span></div><div class="c" style="left:1500.3px;top:13px">1</div></div>
<div class="row g" style="top:528px;height:48px"><div class="c" style="left:17px;top:13px"><span style="position:relative;letter-spacing:0.195px;left:-0.86px;">24</span></div><div class="c" style="left:214px;top:13px"><span style="position:relative;letter-spacing:-0.264px;left:-0.90px;">Dzhamal YUZEKCHIEV</span></div><div class="bd o" style="left:545px;top:10px"><span style="position:relative;letter-spacing:0.542px;left:-0.51px;">Other</span></div><div class="c" style="left:893px;top:13px"><span style="position:relative;letter-spacing:0.360px;left:-0.33px;">16/09/2024 4:00am</span></div><div class="c" style="left:1198px;top:13px"><span style="position:relative;letter-spacing:0.317px;left:-1.08px;">16/09/2024 6:59pm</span></div><div class="c" style="left:1500.3px;top:13px">1</div></div>
<div class="row" style="top:576px;height:48px"><div class="c" style="left:17px;top:13px"><span style="position:relative;letter-spacing:0.488px;left:-0.90px;">23</span></div><div class="c" style="left:214px;top:13px"><span style="position:relative;letter-spacing:0.005px;left:-0.07px;">Timothy Fahey</span></div><div class="bd o" style="left:545px;top:10px"><span style="position:relative;letter-spacing:0.542px;left:-0.51px;">Other</span></div><div class="c" style="left:893px;top:13px"><span style="position:relative;letter-spacing:0.352px;left:-0.59px;">12/09/2024 4:00am</span></div><div class="c" style="left:1198px;top:13px"><span style="position:relative;letter-spacing:0.323px;left:-1.17px;">12/09/2024 6:59pm</span></div><div class="c" style="left:1500.3px;top:13px">1</div></div>
<div class="row g" style="top:624px;height:48px"><div class="c" style="left:17px;top:13px"><span style="position:relative;letter-spacing:0.471px;left:-0.86px;">22</span></div><div class="c" style="left:214px;top:13px"><span style="position:relative;letter-spacing:-0.264px;left:-0.90px;">Dzhamal YUZEKCHIEV</span></div><div class="bd o" style="left:545px;top:10px"><span style="position:relative;letter-spacing:0.542px;left:-0.51px;">Other</span></div><div class="c" style="left:893px;top:13px"><span style="position:relative;letter-spacing:0.518px;left:-0.23px;">09/09/2024 4:00am</span></div><div class="c" style="left:1198px;top:13px"><span style="position:relative;letter-spacing:0.503px;left:-0.27px;">09/09/2024 6:59pm</span></div><div class="c" style="left:1500.3px;top:13px">1</div></div>
<div class="row" style="top:672px;height:48px"><div class="c" style="left:17px;top:13px"><span style="position:relative;letter-spacing:-0.600px;left:-0.90px;">21</span></div><div class="c" style="left:214px;top:13px"><span style="position:relative;letter-spacing:0.265px;left:-0.67px;">Jeffrey Burlison</span></div><div class="bd s" style="left:545px;top:10px"><span style="position:relative;letter-spacing:0.603px;left:0.22px;">Sickness</span></div><div class="c" style="left:893px;top:13px"><span style="position:relative;letter-spacing:0.572px;left:-0.23px;">04/09/2024 4:00am</span></div><div class="c" style="left:1198px;top:13px"><span style="position:relative;letter-spacing:0.323px;left:-1.17px;">13/09/2024 6:59pm</span></div><div class="c" style="left:1500.3px;top:13px">9</div></div>
<div class="row g" style="top:720px;height:48px"><div class="c" style="left:17px;top:13px"><span style="position:relative;letter-spacing:0.800px;left:-0.86px;">20</span></div><div class="c" style="left:214px;top:13px"><span style="position:relative;letter-spacing:0.263px;left:-0.56px;">Jeffrey Burlison</span></div><div class="bd s" style="left:545px;top:10px"><span style="position:relative;letter-spacing:0.603px;left:0.22px;">Sickness</span></div><div class="c" style="left:893px;top:13px"><span style="position:relative;letter-spacing:0.518px;left:-0.23px;">03/09/2024 4:00am</span></div><div class="c" style="left:1198px;top:13px"><span style="position:relative;letter-spacing:0.459px;left:-0.27px;">03/09/2024 6:59pm</span></div><div class="c" style="left:1500.3px;top:13px">1</div></div>
<div class="row" style="top:768px;height:48px"><div class="c" style="left:17px;top:13px"><span style="position:relative;letter-spacing:-0.600px;left:-1.20px;">19</span></div><div class="c" style="left:214px;top:13px"><span style="position:relative;letter-spacing:0.265px;left:-0.67px;">Jeffrey Burlison</span></div><div class="bd s" style="left:545px;top:10px"><span style="position:relative;letter-spacing:0.603px;left:0.22px;">Sickness</span></div><div class="c" style="left:893px;top:13px"><span style="position:relative;letter-spacing:0.512px;left:-0.23px;">02/09/2024 4:00am</span></div><div class="c" style="left:1198px;top:13px"><span style="position:relative;letter-spacing:0.455px;left:-0.27px;">02/09/2024 6:59pm</span></div><div class="c" style="left:1500.3px;top:13px">1</div></div>
<div class="row g" style="top:816px;height:48px"></div>
<div class="vl" style="left:196px"></div>
<div class="vl" style="left:528px"></div>
<div class="vl" style="left:875px"></div>
<div class="vl" style="left:1180px"></div>
<div class="vl" style="left:1483px"></div>
<div class="abs" style="left:1606px;top:0;width:9px;height:820px;background:#e5e7eb"></div>
<div class="abs" style="left:1606px;top:0;width:8px;height:538px;border-radius:4px;background:#9ca3af"></div>
</div>
<div class="abs" style="left:1856px;top:1016px;width:48px;height:48px;border-radius:4px;background:#7b5ea3;color:#fff"><svg class="ic " width="24" height="24" viewBox="0 0 24 24" fill="none" stroke="currentColor" stroke-width="2" stroke-linecap="round" stroke-linejoin="round" style="position:absolute;left:12px;top:12px"><path d="M7.900 20A9 9 0 1 0 4 16.100L2 22Z"/></svg></div>
<svg class="abs" style="left:1790px;top:44px" width="28" height="30" viewBox="1790 44 28 30"><rect x="1800.500" y="48" width="2.700" height="13.500" fill="#fff8ec"/><path d="M1800.500 61.800V48.800a1.350 1.350 0 0 1 2.700 0V53.200C1803.700 52.200 1806 52.300 1806.500 53.600C1807.100 52.900 1809 53.100 1809.500 54.400C1810.200 53.900 1812.400 54.200 1812.400 55.800V62C1812.400 66.700 1809.500 70.300 1805.300 70.300C1802.500 70.300 1800.800 68.800 1799 66.200L1795.500 61.500C1794.700 60.400 1795.500 59.500 1796.700 60Z" fill="none" stroke="#15193a" stroke-width="1.100" stroke-linejoin="round"/><path d="M1803.200 53V56.500M1806.500 53.600V56.500M1809.500 54.400V56.500" stroke="#15193a" stroke-width="1" stroke-linecap="round" fill="none"/></svg>
<svg class="abs" style="left:0;top:1072px" width="8" height="8"><path d="M0 0 A8 8 0 0 0 8 8 H0 Z" fill="#0b0b0f"/></svg>
<svg class="abs" style="left:1912px;top:1072px" width="8" height="8"><path d="M8 0 A8 8 0 0 1 0 8 H8 Z" fill="#0b0b0f"/></svg>
</body></html>
